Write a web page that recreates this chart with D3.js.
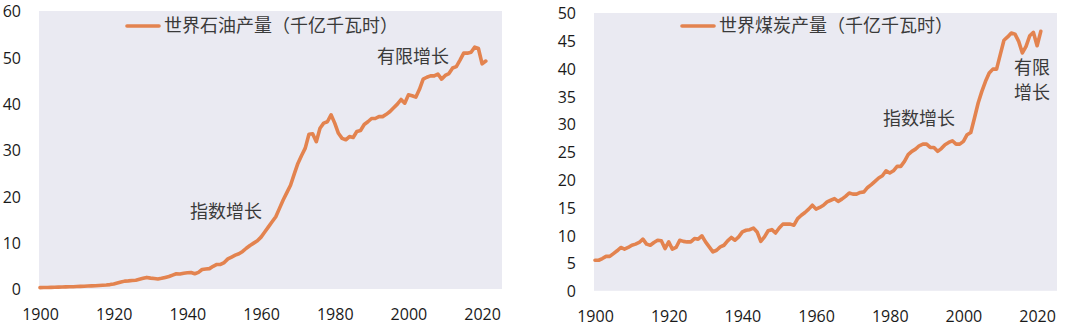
<!DOCTYPE html>
<html>
<head>
<meta charset="utf-8">
<script src="https://cdn.jsdelivr.net/npm/d3@7"></script>
<style>
  html, body { margin: 0; padding: 0; background: #fff; }
  svg { display: block; }
</style>
</head>
<body>
<svg id="chart" width="1080" height="327"></svg>
<script>
// ---- data ----
const oilYears = d3.range(1900, 2022);
// World oil production (千亿千瓦时)
const oilValues = [
  0.30,0.32,0.34,0.36,0.38,0.40,0.42,0.45,0.48,0.50,
  0.53,0.56,0.60,0.65,0.68,0.70,0.75,0.80,0.85,0.95,
  1.10,1.30,1.50,1.70,1.75,1.85,1.90,2.10,2.30,2.50,
  2.35,2.25,2.15,2.30,2.50,2.70,3.00,3.30,3.25,3.40,
  3.50,3.55,3.30,3.60,4.20,4.30,4.40,4.90,5.30,5.30,
  5.70,6.50,6.90,7.30,7.60,8.10,8.80,9.40,9.90,10.40,
  11.20,12.30,13.40,14.50,15.60,17.40,19.20,20.80,22.40,24.80,
  27.10,28.80,30.40,33.40,33.50,31.80,34.70,35.80,36.10,37.60,
  35.80,33.60,32.50,32.20,32.90,32.70,34.00,34.20,35.50,36.10,
  36.80,36.80,37.20,37.20,37.70,38.30,39.10,39.90,40.90,40.10,
  41.90,41.70,41.40,43.10,45.30,45.70,46.00,46.00,46.40,45.30,
  46.10,46.50,47.70,48.00,49.40,50.90,50.90,51.10,52.20,51.90,
  48.60,49.20
];
const coalYears = d3.range(1900, 2022);
// World coal production (千亿千瓦时)
const coalValues = [
  5.5,5.5,5.8,6.2,6.2,6.7,7.2,7.8,7.5,7.8,
  8.2,8.4,8.7,9.3,8.4,8.2,8.7,9.1,9.0,7.6,
  8.8,7.5,7.8,9.1,8.9,8.8,8.8,9.4,9.3,9.9,
  8.8,7.9,7.0,7.3,7.9,8.2,9.0,9.6,9.1,9.7,
  10.6,10.9,11.0,11.3,10.6,8.9,9.7,10.8,11.0,10.4,
  11.3,12.0,12.0,12.0,11.8,13.0,13.6,14.1,14.7,15.4,
  14.7,15.0,15.4,16.0,16.3,16.6,16.1,16.5,17.0,17.6,
  17.4,17.4,17.7,17.8,18.6,19.1,19.7,20.3,20.7,21.6,
  21.2,21.6,22.4,22.4,23.3,24.5,25.1,25.5,26.1,26.4,
  26.4,25.8,25.8,25.1,25.6,26.3,26.7,27.0,26.4,26.4,
  26.9,28.1,28.5,31.1,33.8,35.9,37.7,39.2,39.9,39.9,
  42.5,45.1,45.7,46.4,46.2,44.9,42.8,44.0,45.9,46.5,
  44.1,46.7
];
const xTicks = [1900, 1920, 1940, 1960, 1980, 2000, 2020];
const oilYTicks = [0, 10, 20, 30, 40, 50, 60];
const coalYTicks = [0, 5, 10, 15, 20, 25, 30, 35, 40, 45, 50];
const oilLegend = "世界石油产量（千亿千瓦时）";
const coalLegend = "世界煤炭产量（千亿千瓦时）";
const annExp = "指数增长";
const annLim = "有限增长";

// ---- styles ----
const lineColor = "#E3834F";
const bgColor = "#EAEAF2";
const textColor = "#1a1a1a";
const cjkColor = "#3a3a3a";
const numFont = "'Open Sans', 'Liberation Sans', sans-serif";
const cjkFont = "'Noto Sans CJK SC', sans-serif";

const svg = d3.select("#chart");

function drawPanel(cfg) {
  const g = svg.append("g");
  const x = d3.scaleLinear().domain([1900, 2025.4]).range([cfg.x0, cfg.x0 + 462]);
  const y = d3.scaleLinear().domain([0, cfg.yMax]).range([cfg.yBottom, cfg.yTop]);

  g.append("rect")
    .attr("x", x(1900) - 1).attr("y", y(cfg.yMax))
    .attr("width", x(2025.4) - x(1900) + 1)
    .attr("height", y(0) - y(cfg.yMax))
    .attr("fill", bgColor);

  // y axis
  const yAxis = d3.axisLeft(y).tickValues(cfg.yTicks).tickSize(0).tickPadding(0);
  const ya = g.append("g").attr("transform", `translate(${cfg.yLabelX},0)`).call(yAxis);
  ya.select(".domain").remove();
  ya.selectAll("text").attr("font-family", numFont).attr("font-size", 16)
    .attr("fill", textColor).attr("dy", "0.36em");

  // x axis
  const xAxis = d3.axisBottom(x).tickValues(xTicks).tickFormat(d3.format("d")).tickSize(0).tickPadding(0);
  const xa = g.append("g").attr("transform", `translate(0,${cfg.xLabelY})`).call(xAxis);
  xa.select(".domain").remove();
  xa.selectAll("text").attr("font-family", numFont).attr("font-size", 16)
    .attr("fill", textColor).attr("dy", "0");

  // line
  const data = cfg.years.map((yr, i) => [yr, cfg.values[i]]);
  g.append("path").datum(data)
    .attr("fill", "none").attr("stroke", lineColor).attr("stroke-width", 3.6)
    .attr("stroke-linejoin", "round").attr("stroke-linecap", "round")
    .attr("d", d3.line().x(d => x(d[0])).y(d => y(d[1])));

  // legend
  g.append("line")
    .attr("x1", cfg.legX).attr("x2", cfg.legX + 32)
    .attr("y1", 26).attr("y2", 26)
    .attr("stroke", lineColor).attr("stroke-width", 3.6).attr("stroke-linecap", "round");
  g.append("text").attr("x", cfg.legX + 37).attr("y", 26).attr("dy", "0.35em")
    .attr("font-family", cjkFont).attr("font-size", 18).attr("fill", cjkColor)
    .text(cfg.legend);

  // annotations
  cfg.anns.forEach(a => {
    g.append("text").attr("x", a.x).attr("y", a.y).attr("dy", "0.35em")
      .attr("font-family", cjkFont).attr("font-size", 18).attr("fill", cjkColor)
      .text(a.t);
  });
}

drawPanel({
  x0: 40, yTop: 11, yBottom: 289, yMax: 60, yTicks: oilYTicks,
  yLabelX: 21, xLabelY: 320,
  years: oilYears, values: oilValues,
  legX: 127, legend: oilLegend,
  anns: [{x: 190, y: 212, t: annExp}, {x: 377, y: 57, t: annLim}]
});

drawPanel({
  x0: 595, yTop: 13, yBottom: 290.8, yMax: 50, yTicks: coalYTicks,
  yLabelX: 576, xLabelY: 322,
  years: coalYears, values: coalValues,
  legX: 682, legend: coalLegend,
  anns: [{x: 883, y: 119, t: annExp}, {x: 1014, y: 68, t: annLim.slice(0, 2)}, {x: 1014, y: 93, t: annLim.slice(2)}]
});
</script>
</body>
</html>
